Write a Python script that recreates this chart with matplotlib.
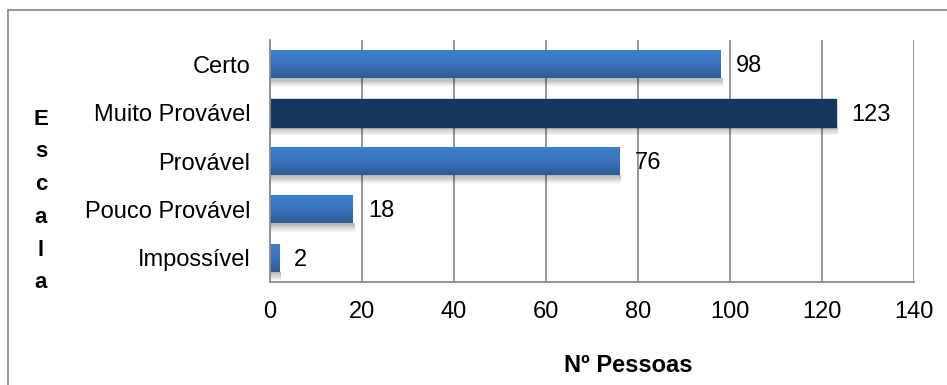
import numpy as np
import matplotlib
matplotlib.use('Agg')
import matplotlib.pyplot as plt
from matplotlib.colors import LinearSegmentedColormap
from matplotlib.patches import Rectangle
from matplotlib.lines import Line2D

plt.rcParams['font.family'] = ['Liberation Sans', 'DejaVu Sans']

categorias = ['Certo', 'Muito Provável', 'Provável', 'Pouco Provável', 'Impossível']
pessoas = [98, 123, 76, 18, 2]
destaque = 'Muito Provável'
xticks = [0, 20, 40, 60, 80, 100, 120, 140]

fig = plt.figure(figsize=(9.47, 3.85), dpi=100)
ax = fig.add_axes([0.2851, 0.2675, 0.6801, 0.6286])

y = np.arange(len(categorias))
altura = 0.58
grad_cmap = LinearSegmentedColormap.from_list('azul', ['#3d7fcf', '#3a74bd', '#2d5a96'])
grad = np.linspace(0, 1, 64).reshape(-1, 1)

bars = ax.barh(y, pessoas, height=altura, color='#3a78c4', zorder=3)
for bar, cat, v, yi in zip(bars, categorias, pessoas, y):
    # soft shadow under each bar
    for k in range(7):
        ax.add_patch(Rectangle((0, yi + altura / 2), v + 0.4,
                               0.025 * (k + 1), color='#000000',
                               alpha=0.045, lw=0, zorder=2))
    if cat == destaque:
        bar.set_color('#17375e')
    else:
        im = ax.imshow(grad, cmap=grad_cmap, aspect='auto', origin='upper',
                       extent=(0, v, yi + altura / 2, yi - altura / 2),
                       zorder=3.5, interpolation='bicubic')
        im.set_clip_path(bar)
    ax.text(v + 3.3, yi + 0.04, str(v), va='center', ha='left', fontsize=17,
            color='black', zorder=5)

ax.set_xlim(0, 140)
ax.set_ylim(len(categorias) - 0.5, -0.5)
ax.set_yticks(y)
ax.set_yticklabels(categorias, fontsize=17)
ax.set_xticks(xticks)
ax.set_xticklabels([str(t) for t in xticks], fontsize=17)
ax.tick_params(axis='y', length=0, pad=14)
ax.tick_params(axis='x', length=0, pad=14)
ax.grid(axis='x', color='#8c8c8c', lw=1.3, zorder=1)
ax.set_axisbelow(True)
for side in ['top', 'right']:
    ax.spines[side].set_visible(False)
for side in ['left', 'bottom']:
    ax.spines[side].set_color('#8c8c8c')
    ax.spines[side].set_linewidth(1.3)
    ax.spines[side].set_zorder(4)

fig.text(628 / 947, 1 - 366 / 385, 'Nº Pessoas', ha='center', va='center',
         fontsize=17, fontweight='bold')
fig.text(41 / 947, 1 - 201 / 385, '\n'.join('Escala'), ha='center', va='center',
         fontsize=16, fontweight='bold', linespacing=1.73)

# outer chart frame
fig.add_artist(Line2D([8 / 947, 1], [1 - 10 / 385] * 2, color='#8c8c8c', lw=1.3))
fig.add_artist(Line2D([8 / 947] * 2, [0, 1 - 10 / 385], color='#8c8c8c', lw=1.3))

fig.savefig('out.png', dpi=100, facecolor='white')
